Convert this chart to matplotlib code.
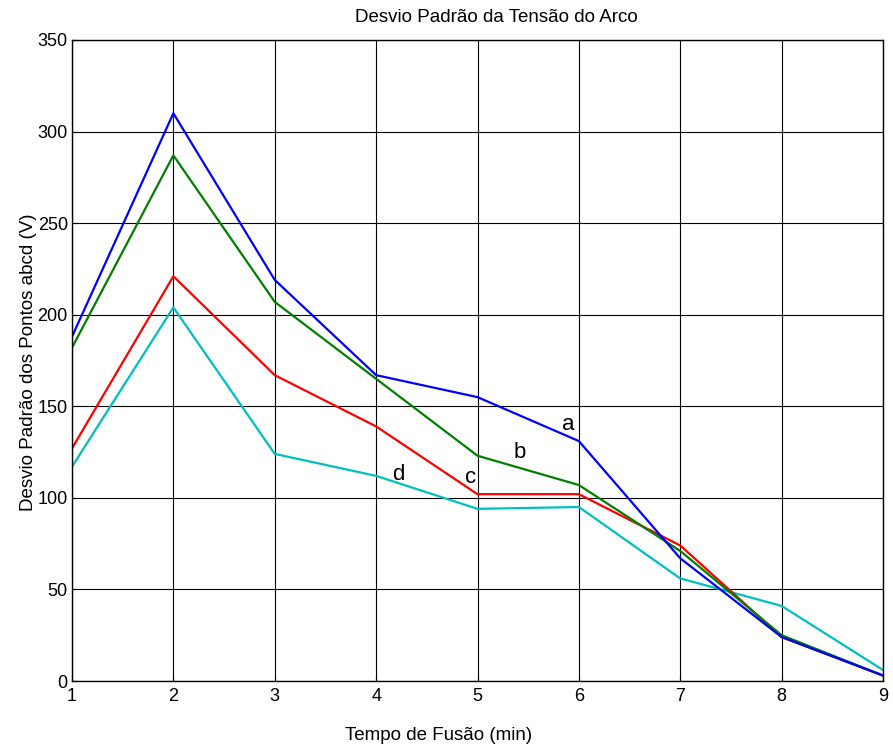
import matplotlib
matplotlib.use("Agg")
import matplotlib.pyplot as plt

plt.rcParams['font.family'] = ['Liberation Sans', 'DejaVu Sans']

x = [1, 2, 3, 4, 5, 6, 7, 8, 9]
serie_a = [188, 310, 219, 167, 155, 131, 67, 24, 3]
serie_b = [182, 287, 207, 165, 123, 107, 71, 25, 3]
serie_c = [127, 221, 167, 139, 102, 102, 74, 24, 3]
serie_d = [117, 204, 124, 112, 94, 95, 56, 41, 6]
labels = ['a', 'b', 'c', 'd']
label_pos = [(5.9, 140), (5.42, 125), (4.93, 111), (4.22, 113)]
colors = ['#0000ff', '#007f00', '#ff0000', '#00bfbf']

W, H = 893, 751
fig = plt.figure(figsize=(W / 100, H / 100), dpi=100)
ax = fig.add_axes([72 / W, 70 / H, 811 / W, 641 / H])

for s, c in zip([serie_d, serie_c, serie_b, serie_a], colors[::-1]):
    ax.plot(x, s, color=c, linewidth=1.6)

for lab, (lx, ly) in zip(labels, label_pos):
    ax.text(lx, ly, lab, fontsize=16, ha='center', va='center', color='black')

ax.set_xlim(1, 9)
ax.set_ylim(0, 350)
ax.set_xticks(range(1, 10))
ax.set_yticks(range(0, 351, 50))
ax.grid(True, color='black', linewidth=0.8, linestyle='-')
ax.tick_params(direction='in', labelsize=13, length=4)
ax.tick_params(axis='x', pad=5)
ax.tick_params(axis='y', pad=3)
for sp in ax.spines.values():
    sp.set_linewidth(1.0)

fig.text(496 / W, 1 - 17 / H, 'Desvio Padrão da Tensão do Arco', fontsize=13.5,
         ha='center', va='center')
ax.set_xlabel('Tempo de Fusão (min)', fontsize=13.5)
ax.set_ylabel('Desvio Padrão dos Pontos abcd (V)', fontsize=13.5)
ax.xaxis.set_label_coords((439 - 72) / 811, (H - 736 - 70) / 641)
ax.xaxis.label.set_verticalalignment('center')
ax.yaxis.set_label_coords((29 - 72) / 811, (H - 362 - 70) / 641)
ax.yaxis.label.set_verticalalignment('center')

fig.savefig('out.png', dpi=100)
